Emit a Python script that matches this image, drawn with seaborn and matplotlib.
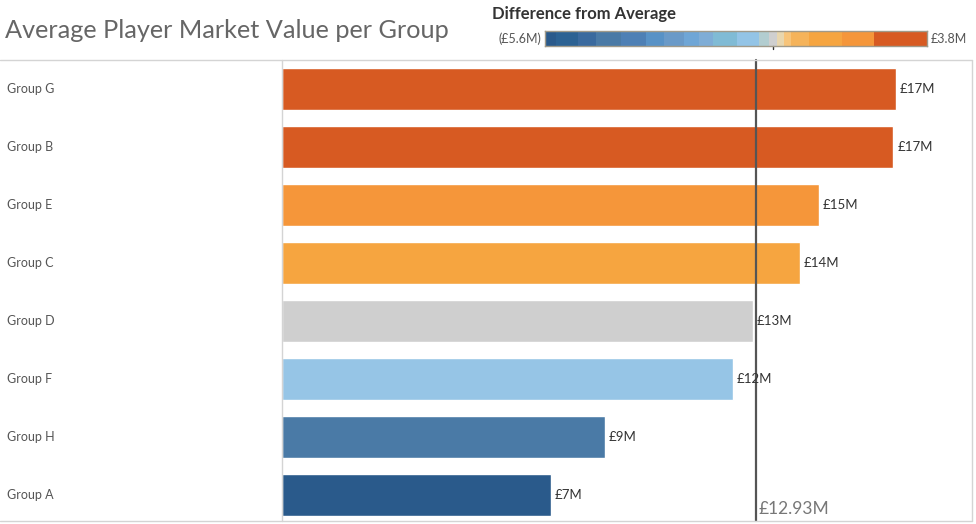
import matplotlib
matplotlib.use("Agg")
import matplotlib.pyplot as plt
import seaborn as sns
import pandas as pd
import numpy as np

groups = ["Group G", "Group B", "Group E", "Group C", "Group D", "Group F", "Group H", "Group A"]
values = [16.75, 16.68, 14.65, 14.13, 12.85, 12.30, 8.81, 7.33]
average = 12.93
bar_colors = ["#D75A22", "#D75A22", "#F5963A", "#F6A540", "#CFCFCF", "#96C5E6", "#4A7AA6", "#2A5A8B"]
legend_colors = ["#2A5A8B", "#2C6293", "#3A6A9E", "#4A7AA6", "#4E80B5", "#5892C6", "#6A9AC8",
                 "#6FA6D6", "#7FADD6", "#80BBD5", "#93C4E6", "#B2CDD0", "#CFCFCF", "#E8D6AE",
                 "#F7C47A", "#F5B35A", "#F6A540", "#F5963A", "#D75A22"]
legend_widths = [12, 24, 20, 28, 28, 20, 22, 16, 16, 26, 24, 12, 8, 8, 8, 20, 36, 36, 58]
diff_min, diff_max = -5.6, 3.8

sns.set_theme(style="white")
plt.rcParams['font.family'] = ['Lato', 'DejaVu Sans']

W, H = 976, 524
fig = plt.figure(figsize=(W / 100, H / 100), dpi=100)

def fx(px):
    return px / W

def fy(py):
    return 1 - py / H

ax = fig.add_axes([fx(282), fy(524), fx(972) - fx(282), fy(60) - fy(524)])
df = pd.DataFrame({"group": groups, "value": values})
sns.barplot(data=df, x="value", y="group", hue="group", palette=bar_colors,
            legend=False, ax=ax, width=0.71, orient="h", saturation=1)
px_per_unit = (756 - 282) / average
ax.set_xlim(0, (972 - 282) / px_per_unit)
ax.set_ylim(7.5, -0.5)
ax.set_xlabel("")
ax.set_ylabel("")
ax.set_xticks([])
ax.set_yticks([])
for s in ["top", "bottom", "right", "left"]:
    ax.spines[s].set_visible(False)

label_tr = matplotlib.transforms.blended_transform_factory(fig.transFigure, ax.transData)
for i, v in enumerate(values):
    ax.text(v + 4 / px_per_unit, i, f"£{v:.0f}M", va="center", ha="left",
            fontsize=9.5, color="#333333")
    fig.text(fx(7), i, groups[i], transform=label_tr,
             va="center", ha="left", fontsize=9, color="#555555")

line_tr = matplotlib.transforms.blended_transform_factory(ax.transData, fig.transFigure)
ax.plot([average, average], [fy(521), fy(60)], transform=line_tr, color="#555555",
        linewidth=1.6, clip_on=False)
ax.text(average + 3 / px_per_unit, fy(517), f"£{average:.2f}M", transform=line_tr,
        va="bottom", ha="left", fontsize=12.5, color="#777777")

# frame lines
fig.add_artist(plt.Line2D([0, fx(972)], [fy(60), fy(60)], color="#d4d4d4", lw=1))
fig.add_artist(plt.Line2D([0, fx(972)], [fy(521), fy(521)], color="#d4d4d4", lw=1))
fig.add_artist(plt.Line2D([fx(972), fx(972)], [fy(60), fy(521)], color="#d4d4d4", lw=1))
fig.add_artist(plt.Line2D([fx(282), fx(282)], [fy(60), fy(521)], color="#d4d4d4", lw=1))

fig.text(fx(5), fy(30), "Average Player Market Value per Group", fontsize=18.2,
         color="#666666", va="center", ha="left")

# legend color bar
lax = fig.add_axes([fx(545), fy(46), fx(927) - fx(545), fy(31) - fy(46)])
edges = np.concatenate([[0], np.cumsum(legend_widths)])
edges = diff_min + edges / edges[-1] * (diff_max - diff_min)
for c, a, b in zip(legend_colors, edges[:-1], edges[1:]):
    lax.axvspan(a, b, color=c, lw=0)
lax.set_xlim(diff_min, diff_max)
lax.set_ylim(0, 1)
lax.set_xticks([])
lax.set_yticks([])
for s in lax.spines.values():
    s.set_color("#a09a8a")
    s.set_linewidth(1)
lax.plot([0, 0], [0, -0.2], color="#333333", lw=1, clip_on=False)
fig.text(fx(492), fy(14), "Difference from Average", fontsize=12, fontweight="bold",
         color="#333333", va="center", ha="left")
fig.text(fx(541), fy(39), f"(£{abs(diff_min):.1f}M)", fontsize=9, color="#555555",
         va="center", ha="right")
fig.text(fx(931), fy(39), f"£{diff_max:.1f}M", fontsize=9, color="#555555",
         va="center", ha="left")

fig.savefig("out.png", dpi=100, facecolor="white")
